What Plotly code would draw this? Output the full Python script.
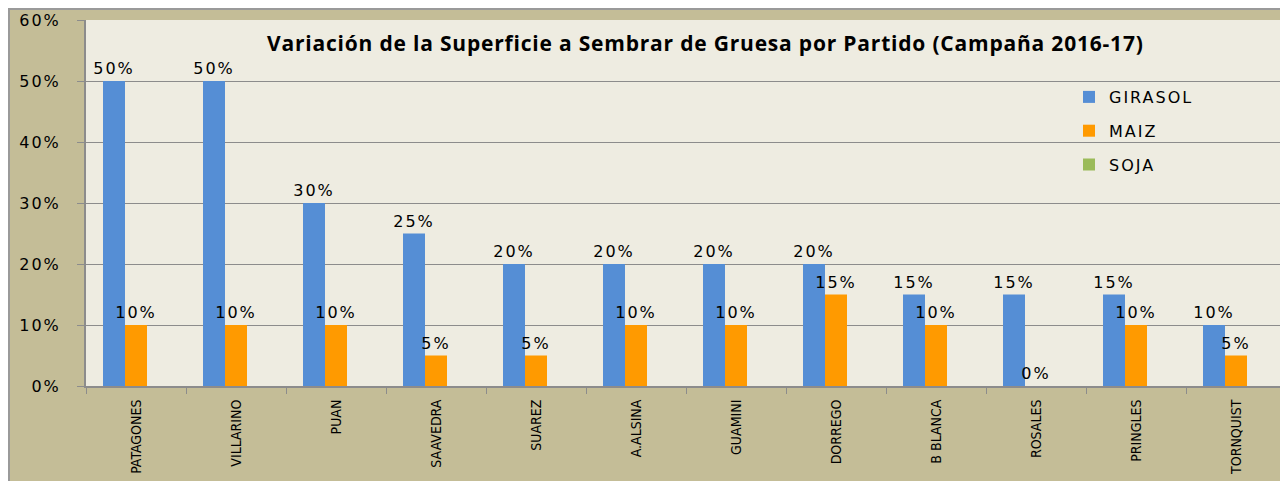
import plotly.graph_objects as go

partidos = ["PATAGONES", "VILLARINO", "PUAN", "SAAVEDRA", "SUAREZ", "A.ALSINA",
            "GUAMINI", "DORREGO", "B BLANCA", "ROSALES", "PRINGLES", "TORNQUIST"]
girasol = [0.50, 0.50, 0.30, 0.25, 0.20, 0.20, 0.20, 0.20, 0.15, 0.15, 0.15, 0.10]
maiz = [0.10, 0.10, 0.10, 0.05, 0.05, 0.10, 0.10, 0.15, 0.10, 0.00, 0.10, 0.05]
soja = [None] * 12
y_ticks = [0.0, 0.1, 0.2, 0.3, 0.4, 0.5, 0.6]

# page body has an 8px margin; figure is placed at (8, 8) in the screenshot
OFF = 8
W, H = 1288 - OFF, 481 - OFF
L, R, T, B = 86 - OFF, 2, 20 - OFF, 95
PW, PH = W - L - R, H - T - B


def px(x):  # screenshot x -> paper
    return (x - OFF - L) / PW


def py(y):  # screenshot y -> paper
    return (H - B - (y - OFF)) / PH


def spaced(s, ls=2):
    return f'<span style="letter-spacing:{ls}px">{s}</span>'


FONT = "DejaVu Sans, Verdana, sans-serif"
label_font = dict(family=FONT, size=16, color="black")

fig = go.Figure()
for name, vals, color in [("GIRASOL", girasol, "#558ED5"),
                          ("MAIZ", maiz, "#FF9A00"),
                          ("SOJA", soja, "#9BBB59")]:
    fig.add_trace(go.Bar(
        x=partidos, y=vals, name=spaced(name), marker=dict(color=color, line=dict(width=0)),
        text=[None if v is None else spaced(f"{round(v*100)}%") for v in vals],
        textposition="outside", textfont=label_font, constraintext="none",
        cliponaxis=False, legendgroup=name,
    ))

shapes = [
    dict(type="line", xref="paper", yref="paper", x0=px(8), x1=px(1290), y0=py(9), y1=py(9),
         line=dict(color="#9A9A9A", width=2)),
    dict(type="line", xref="paper", yref="paper", x0=px(9), x1=px(9), y0=py(490), y1=py(8),
         line=dict(color="#9A9A9A", width=2)),
]

fig.update_layout(
    width=W, height=H,
    margin=dict(l=L, r=R, t=T, b=B, autoexpand=False),
    paper_bgcolor="#C4BD97",
    plot_bgcolor="#EEECE1",
    barmode="group", bargap=0.34, bargroupgap=0,
    shapes=shapes,
    showlegend=True,
    legend=dict(x=px(1069), y=py(80), xanchor="left", yanchor="top",
                bgcolor="rgba(0,0,0,0)", traceorder="grouped", tracegroupgap=10,
                font=dict(family=FONT, size=16, color="black")),
    annotations=[dict(
        text='<b><span style="letter-spacing:0.8px">Variación de la Superficie a Sembrar de Gruesa por Partido (Campaña 2016-17)</span></b>',
        xref="paper", yref="paper", x=px(705), y=py(43), xanchor="center", yanchor="middle",
        showarrow=False, font=dict(family="Open Sans, sans-serif", size=21, color="black"))],
)

fig.update_yaxes(range=[0, 0.6], tickvals=y_ticks,
                 ticktext=[spaced(f"{round(v*100)}%") for v in y_ticks],
                 showgrid=True, gridcolor="#8C8C8C", gridwidth=1,
                 showline=True, linecolor="#8C8C8C", linewidth=2,
                 ticks="outside", ticklen=7, tickcolor="#8C8C8C",
                 ticklabelstandoff=13, zeroline=False, automargin=False,
                 tickfont=dict(family=FONT, size=16, color="black"))
fig.update_xaxes(showline=True, linecolor="#8C8C8C", linewidth=2,
                 ticks="outside", ticklen=6, tickcolor="#8C8C8C", tickson="boundaries",
                 tickangle=-90, ticklabelstandoff=6, automargin=False,
                 tickfont=dict(family="Liberation Sans Narrow, DejaVu Sans Condensed, sans-serif",
                               size=14, color="black"))

fig.write_html("out.html")
